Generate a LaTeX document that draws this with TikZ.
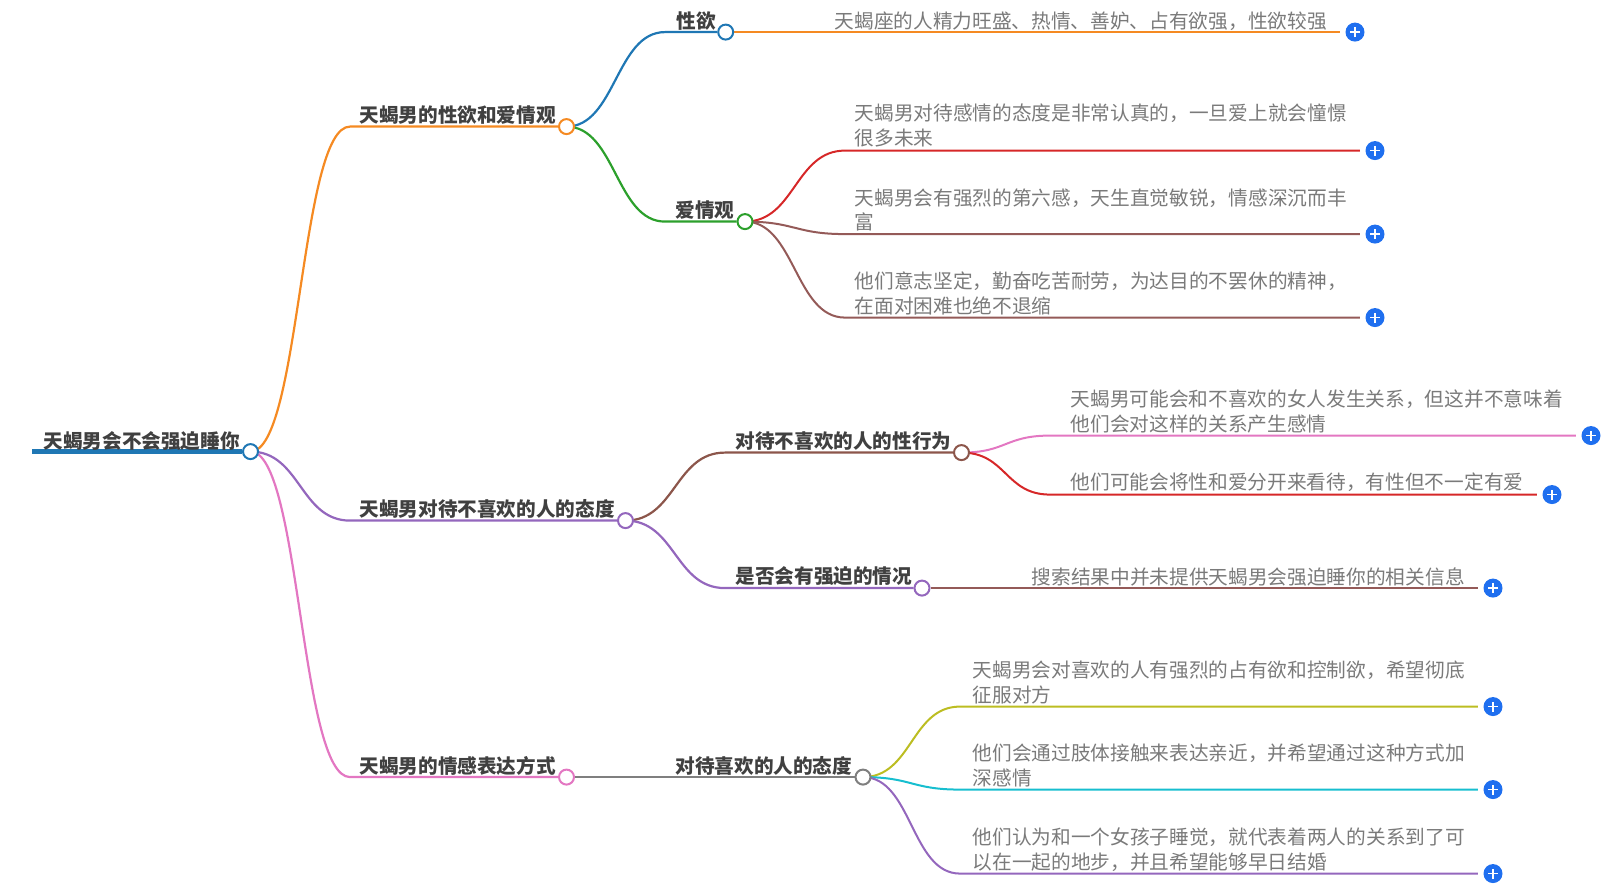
\documentclass[tikz,border=0pt]{standalone}
\usepackage{fontspec}
\setmainfont{Noto Sans CJK SC}
\usetikzlibrary{backgrounds}

\definecolor{lineblue}{HTML}{1F77B4}
\definecolor{lineorange}{HTML}{F58A22}
\definecolor{linegreen}{HTML}{2CA02C}
\definecolor{linered}{HTML}{D62728}
\definecolor{linepurple}{HTML}{9467BD}
\definecolor{linebrown}{HTML}{8C564B}
\definecolor{linerose}{HTML}{945A58}
\definecolor{linepink}{HTML}{E377C2}
\definecolor{linegray}{HTML}{7F7F7F}
\definecolor{lineolive}{HTML}{BCBD22}
\definecolor{linecyan}{HTML}{17BECF}
\definecolor{plusblue}{HTML}{1F6FEF}

\tikzset{
    boldtext/.style={anchor=west, inner sep=0pt, text=black!75, font=\bfseries\fontsize{5.58pt}{7pt}\selectfont},
    leaftext/.style={anchor=west, inner sep=0pt, align=left, text=black!52, font=\fontsize{5.6pt}{7.03pt}\selectfont},
    dotnode/.style={circle, draw=#1, fill=white, line width=0.02cm, minimum size=0.15cm, inner sep=0pt},
    plusnode/.style={circle, fill=plusblue, minimum size=0.19cm, inner sep=0pt,
        path picture={
            \draw[white, line width=0.016cm] ([xshift=-0.05cm]path picture bounding box.center) -- ([xshift=0.05cm]path picture bounding box.center);
            \draw[white, line width=0.016cm] ([yshift=-0.05cm]path picture bounding box.center) -- ([yshift=0.05cm]path picture bounding box.center);
        }},
    branch/.style={line width=0.022cm, color=#1},
    leaf/.style={line width=0.02cm, color=#1, shorten >=0.05cm},
}

\begin{document}
\begin{tikzpicture}

    \useasboundingbox (0,0.006) rectangle (16.21,-8.894);

    % Root
    \coordinate (rootstart) at (0.32,-4.51);
    \node[dotnode=lineblue] (rootdot) at (2.505,-4.51) {};
    \node[boldtext] (roottext) at (0.43,-4.405) {天蝎男会不会强迫睡你};

    % ================================
    % Main branches

    % sexlove
    \coordinate (sexlovebend) at (3.5,-1.26);
    \node[dotnode=lineorange] (sexlovedot) at (5.665,-1.26) {};
    \node[boldtext] (sexlovetext) at (3.59,-1.14) {天蝎男的性欲和爱情观};

    % dislike
    \coordinate (dislikebend) at (3.5,-5.2);
    \node[dotnode=linepurple] (dislikedot) at (6.255,-5.2) {};
    \node[boldtext] (disliketext) at (3.59,-5.08) {天蝎男对待不喜欢的人的态度};

    % express
    \coordinate (expressbend) at (3.5,-7.765);
    \node[dotnode=linepink] (expressdot) at (5.665,-7.765) {};
    \node[boldtext] (expresstext) at (3.59,-7.65) {天蝎男的情感表达方式};

    % ================================
    % Second level

    % desire
    \coordinate (desirebend) at (6.65,-0.315);
    \node[dotnode=lineblue] (desiredot) at (7.257,-0.315) {};
    \node[boldtext] (desiretext) at (6.76,-0.2) {性欲};

    % love
    \coordinate (lovebend) at (6.65,-2.21);
    \node[dotnode=linegreen] (lovedot) at (7.45,-2.21) {};
    \node[boldtext] (lovetext) at (6.75,-2.09) {爱情观};

    % sexact
    \coordinate (sexactbend) at (7.25,-4.52);
    \node[dotnode=linebrown] (sexactdot) at (9.615,-4.52) {};
    \node[boldtext] (sexacttext) at (7.35,-4.4) {对待不喜欢的人的性行为};

    % force
    \coordinate (forcebend) at (7.25,-5.875);
    \node[dotnode=linepurple] (forcedot) at (9.22,-5.875) {};
    \node[boldtext] (forcetext) at (7.35,-5.76) {是否会有强迫的情况};

    % like
    \node[dotnode=linegray] (likedot) at (8.63,-7.765) {};
    \node[boldtext] (liketext) at (6.75,-7.65) {对待喜欢的人的态度};

    % ================================
    % Leaves

    % desire
    \node[plusnode] (plusa) at (13.55,-0.315) {};
    \node[leaftext] (leafa) at (8.34,-0.205) {天蝎座的人精力旺盛、热情、善妒、占有欲强，性欲较强};

    % love
    \coordinate (leafbendb) at (8.45,-1.5);
    \node[plusnode] (plusb) at (13.75,-1.5) {};
    \node[leaftext] (leafb) at (8.54,-1.25) {天蝎男对待感情的态度是非常认真的，一旦爱上就会憧憬\\很多未来};

    \coordinate (leafbendc) at (8.45,-2.335);
    \node[plusnode] (plusc) at (13.75,-2.335) {};
    \node[leaftext] (leafc) at (8.54,-2.095) {天蝎男会有强烈的第六感，天生直觉敏锐，情感深沉而丰\\富};

    \coordinate (leafbendd) at (8.45,-3.17);
    \node[plusnode] (plusd) at (13.75,-3.17) {};
    \node[leaftext] (leafd) at (8.54,-2.93) {他们意志坚定，勤奋吃苦耐劳，为达目的不罢休的精神，\\在面对困难也绝不退缩};

    % sexact
    \coordinate (leafbende) at (10.5,-4.35);
    \node[plusnode] (pluse) at (15.91,-4.35) {};
    \node[leaftext] (leafe) at (10.7,-4.11) {天蝎男可能会和不喜欢的女人发生关系，但这并不意味着\\他们会对这样的关系产生感情};

    \coordinate (leafbendf) at (10.5,-4.94);
    \node[plusnode] (plusf) at (15.52,-4.94) {};
    \node[leaftext] (leaff) at (10.7,-4.82) {他们可能会将性和爱分开来看待，有性但不一定有爱};

    % force
    \node[plusnode] (plusg) at (14.93,-5.875) {};
    \node[leaftext] (leafg) at (10.31,-5.76) {搜索结果中并未提供天蝎男会强迫睡你的相关信息};

    % like
    \coordinate (leafbendh) at (9.6,-7.06);
    \node[plusnode] (plush) at (14.93,-7.06) {};
    \node[leaftext] (leafh) at (9.72,-6.82) {天蝎男会对喜欢的人有强烈的占有欲和控制欲，希望彻底\\征服对方};

    \coordinate (leafbendi) at (9.6,-7.89);
    \node[plusnode] (plusi) at (14.93,-7.89) {};
    \node[leaftext] (leafi) at (9.72,-7.65) {他们会通过肢体接触来表达亲近，并希望通过这种方式加\\深感情};

    \coordinate (leafbendj) at (9.6,-8.73);
    \node[plusnode] (plusj) at (14.93,-8.73) {};
    \node[leaftext] (leafj) at (9.72,-8.49) {他们认为和一个女孩子睡觉，就代表着两人的关系到了可\\以在一起的地步，并且希望能够早日结婚};

    % ================================
    % Connectors

    \begin{scope}[on background layer]
    \draw[line width=0.05cm, lineblue] (rootstart) -- (rootdot.west);

    \draw[branch=lineorange] (rootdot.center) .. controls +(0.5,0) and +(-0.5,0) .. (sexlovebend) -- (sexlovedot.west);
    \draw[branch=linepurple] (rootdot.center) .. controls +(0.5,0) and +(-0.5,0) .. (dislikebend) -- (dislikedot.west);
    \draw[branch=linepink] (rootdot.center) .. controls +(0.5,0) and +(-0.5,0) .. (expressbend) -- (expressdot.west);

    \draw[branch=lineblue] (sexlovedot.center) .. controls +(0.49,0) and +(-0.49,0) .. (desirebend) -- (desiredot.west);
    \draw[branch=linegreen] (sexlovedot.center) .. controls +(0.49,0) and +(-0.49,0) .. (lovebend) -- (lovedot.west);
    \draw[branch=linebrown] (dislikedot.center) .. controls +(0.5,0) and +(-0.5,0) .. (sexactbend) -- (sexactdot.west);
    \draw[branch=linepurple] (dislikedot.center) .. controls +(0.5,0) and +(-0.5,0) .. (forcebend) -- (forcedot.west);
    \draw[leaf=linegray, shorten >=0pt] (expressdot.east) -- (likedot.west);

    \draw[leaf=lineorange] (desiredot.east) -- (plusa.west);
    \draw[leaf=linered] (lovedot.center) .. controls +(0.5,0) and +(-0.5,0) .. (leafbendb) -- (plusb.west);
    \draw[leaf=linerose] (lovedot.center) .. controls +(0.5,0) and +(-0.5,0) .. (leafbendc) -- (plusc.west);
    \draw[leaf=linerose] (lovedot.center) .. controls +(0.5,0) and +(-0.5,0) .. (leafbendd) -- (plusd.west);
    \draw[leaf=linepink] (sexactdot.center) .. controls +(0.45,0) and +(-0.45,0) .. (leafbende) -- (pluse.west);
    \draw[leaf=linered] (sexactdot.center) .. controls +(0.45,0) and +(-0.45,0) .. (leafbendf) -- (plusf.west);
    \draw[leaf=linerose] (forcedot.east) -- (plusg.west);
    \draw[leaf=lineolive] (likedot.center) .. controls +(0.49,0) and +(-0.49,0) .. (leafbendh) -- (plush.west);
    \draw[leaf=linecyan] (likedot.center) .. controls +(0.49,0) and +(-0.49,0) .. (leafbendi) -- (plusi.west);
    \draw[leaf=linepurple] (likedot.center) .. controls +(0.49,0) and +(-0.49,0) .. (leafbendj) -- (plusj.west);
    \end{scope}

\end{tikzpicture}
\end{document}
